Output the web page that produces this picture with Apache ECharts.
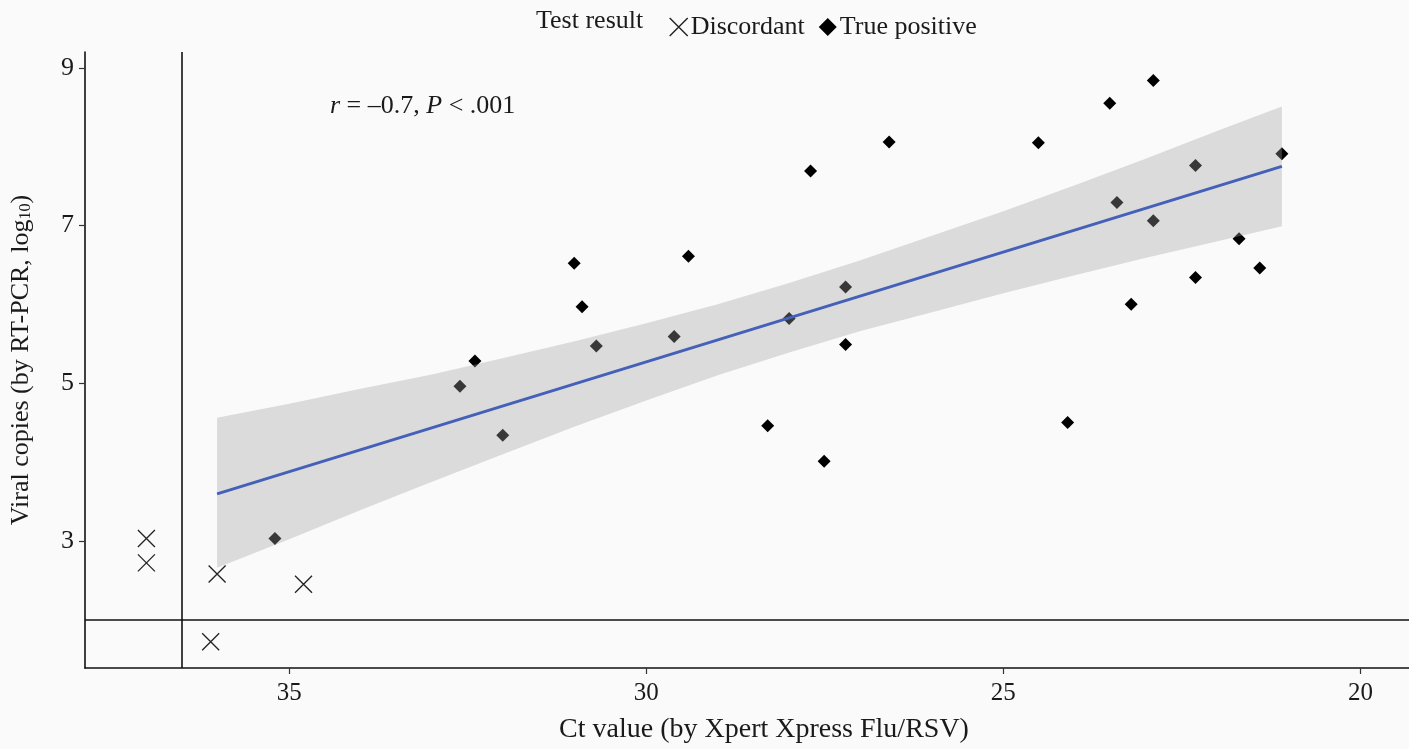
<!DOCTYPE html>
<html>
<head>
<meta charset="utf-8">
<script src="https://cdn.jsdelivr.net/npm/echarts@6/dist/echarts.min.js"></script>
<style>
html,body{margin:0;padding:0;background:#fafafa;}
#main{width:1409px;height:749px;}
</style>
</head>
<body>
<div id="main"></div>
<script>
// ---- Data ----
// True positive: Ct value (Xpert Xpress Flu/RSV) and viral copies (log10)
const ctTP = [35.20, 32.61, 32.40, 32.01, 31.01, 30.90, 30.70, 29.61, 29.41, 28.30, 28.00, 27.70, 27.51, 27.21, 27.21, 26.60,
              24.51, 24.10, 23.51, 23.41, 23.21, 22.90, 22.90, 22.31, 22.31, 21.70, 21.41, 21.10];
const vcTP = [3.03, 4.96, 5.28, 4.34, 6.52, 5.97, 5.47, 5.59, 6.61, 4.46, 5.82, 7.69, 4.01, 6.22, 5.49, 8.06,
              8.05, 4.50, 8.55, 7.29, 6.00, 8.84, 7.06, 7.76, 6.34, 6.83, 6.46, 7.91];
// Discordant results
const ctDisc = [37.00, 37.00, 36.01, 34.80, 36.10];
const vcDisc = [3.03, 2.72, 2.58, 2.45, 1.72];
// Linear fit line (end points)
const fitCt = [36.01, 21.10];
const fitVc = [3.595, 7.75];
// Confidence band
const bandCt = [36.01, 35, 34, 33, 32, 31, 30, 29, 28, 27, 26, 25, 24, 23, 22, 21.10];
const bandLo = [2.66, 3.02, 3.39, 3.75, 4.10, 4.45, 4.78, 5.10, 5.39, 5.66, 5.90, 6.14, 6.37, 6.59, 6.80, 6.99];
const bandHi = [4.56, 4.74, 4.93, 5.11, 5.32, 5.53, 5.76, 6.00, 6.27, 6.56, 6.87, 7.18, 7.51, 7.85, 8.20, 8.51];
// Cut-off reference lines
const ctCutoff = 36.5;
const vcCutoff = 2;
// Tick labels
const xTicks = [20, 25, 30, 35];
const yTicks = [3, 5, 7, 9];

const FONT = "'Liberation Serif', 'DejaVu Serif', serif";
const INK = '#1a1a1a';
const crossPath = 'path://M0,0L10,10M10,0L0,10';

const chart = echarts.init(document.getElementById('main'), null, {renderer: 'canvas'});

const option = {
  animation: false,
  backgroundColor: '#fafafa',
  textStyle: {fontFamily: FONT, color: INK},
  grid: {left: 83, right: 0, top: 52, bottom: 75, containLabel: false},
  legend: {
    left: 664, top: 9,
    itemWidth: 18, itemHeight: 18, itemGap: 14,
    textStyle: {fontFamily: FONT, fontSize: 26, color: INK, padding: [0, 0, 0, -2]},
    data: [
      {name: 'Discordant', icon: crossPath, itemStyle: {color: 'transparent', borderColor: '#222', borderWidth: 1.4}},
      {name: 'True positive', icon: 'diamond', itemStyle: {color: '#000'}}
    ]
  },
  graphic: [
    {type: 'text', left: 536, top: 8, style: {text: 'Test result', font: "26px " + FONT, fill: INK}},
    {type: 'text', left: 330, top: 93, style: {
      text: '{i|r} = –0.7, {i|P} < .001',
      font: "26px " + FONT, fill: INK,
      rich: {i: {fontStyle: 'italic', fontFamily: FONT, fontSize: 26, fill: INK}}
    }}
  ],
  xAxis: {
    type: 'value', inverse: true, min: 19.32, max: 37.86,
    name: 'Ct value (by Xpert Xpress Flu/RSV)', nameLocation: 'middle', nameGap: 48,
    nameTextStyle: {fontFamily: FONT, fontSize: 28, color: INK, padding: [0, 0, 0, 34]},
    axisLine: {show: true, onZero: false, lineStyle: {color: '#111', width: 1.6}},
    axisTick: {show: true, length: 6, customValues: xTicks, lineStyle: {color: '#333', width: 1.2}},
    axisLabel: {customValues: xTicks, fontFamily: FONT, fontSize: 25, color: INK, margin: 13},
    splitLine: {show: false}
  },
  yAxis: {
    type: 'value', min: 1.387, max: 9.2,
    name: 'Viral copies (by RT-PCR, log{sub|10})', nameLocation: 'middle', nameGap: 51,
    nameTextStyle: {fontFamily: FONT, fontSize: 26, color: INK,
      rich: {sub: {fontFamily: FONT, fontSize: 16, color: INK, verticalAlign: 'bottom', padding: [10, 0, 0, 0]}}},
    axisLine: {show: true, onZero: false, lineStyle: {color: '#111', width: 1.6}},
    axisTick: {show: true, length: 6, customValues: yTicks, lineStyle: {color: '#333', width: 1.2}},
    axisLabel: {customValues: yTicks, fontFamily: FONT, fontSize: 26, color: INK, margin: 11},
    splitLine: {show: false}
  },
  series: [
    {
      name: 'True positive', type: 'scatter', z: 2,
      symbol: 'diamond', symbolSize: 13,
      itemStyle: {color: '#000', opacity: 1},
      data: ctTP.map((x, i) => [x, vcTP[i]])
    },
    {
      name: 'Discordant', type: 'scatter', z: 2,
      symbol: crossPath, symbolSize: 17,
      itemStyle: {color: 'transparent', borderColor: '#222', borderWidth: 1.3, opacity: 1},
      data: ctDisc.map((x, i) => [x, vcDisc[i]])
    },
    {
      name: 'band', type: 'custom', z: 3, silent: true,
      data: bandCt.map((x, i) => [x, bandLo[i], bandHi[i]]),
      encode: {x: 0, y: [1, 2]},
      renderItem: function (params, api) {
        if (params.dataIndex !== 0) return {type: 'group', children: []};
        const pts = [];
        for (let i = 0; i < bandCt.length; i++) pts.push(api.coord([bandCt[i], bandHi[i]]));
        for (let i = bandCt.length - 1; i >= 0; i--) pts.push(api.coord([bandCt[i], bandLo[i]]));
        return {type: 'polygon', shape: {points: pts}, style: {fill: 'rgba(160,160,160,0.35)'}};
      }
    },
    {
      name: 'fit', type: 'line', z: 4, silent: true,
      showSymbol: false, symbol: 'none',
      lineStyle: {color: '#4560b8', width: 3},
      data: fitCt.map((x, i) => [x, fitVc[i]]),
      markLine: {
        silent: true, symbol: ['none', 'none'], label: {show: false},
        lineStyle: {color: '#111', width: 1.6, type: 'solid'},
        data: [{xAxis: ctCutoff}, {yAxis: vcCutoff}]
      }
    }
  ]
};
chart.setOption(option);
</script>
</body>
</html>
